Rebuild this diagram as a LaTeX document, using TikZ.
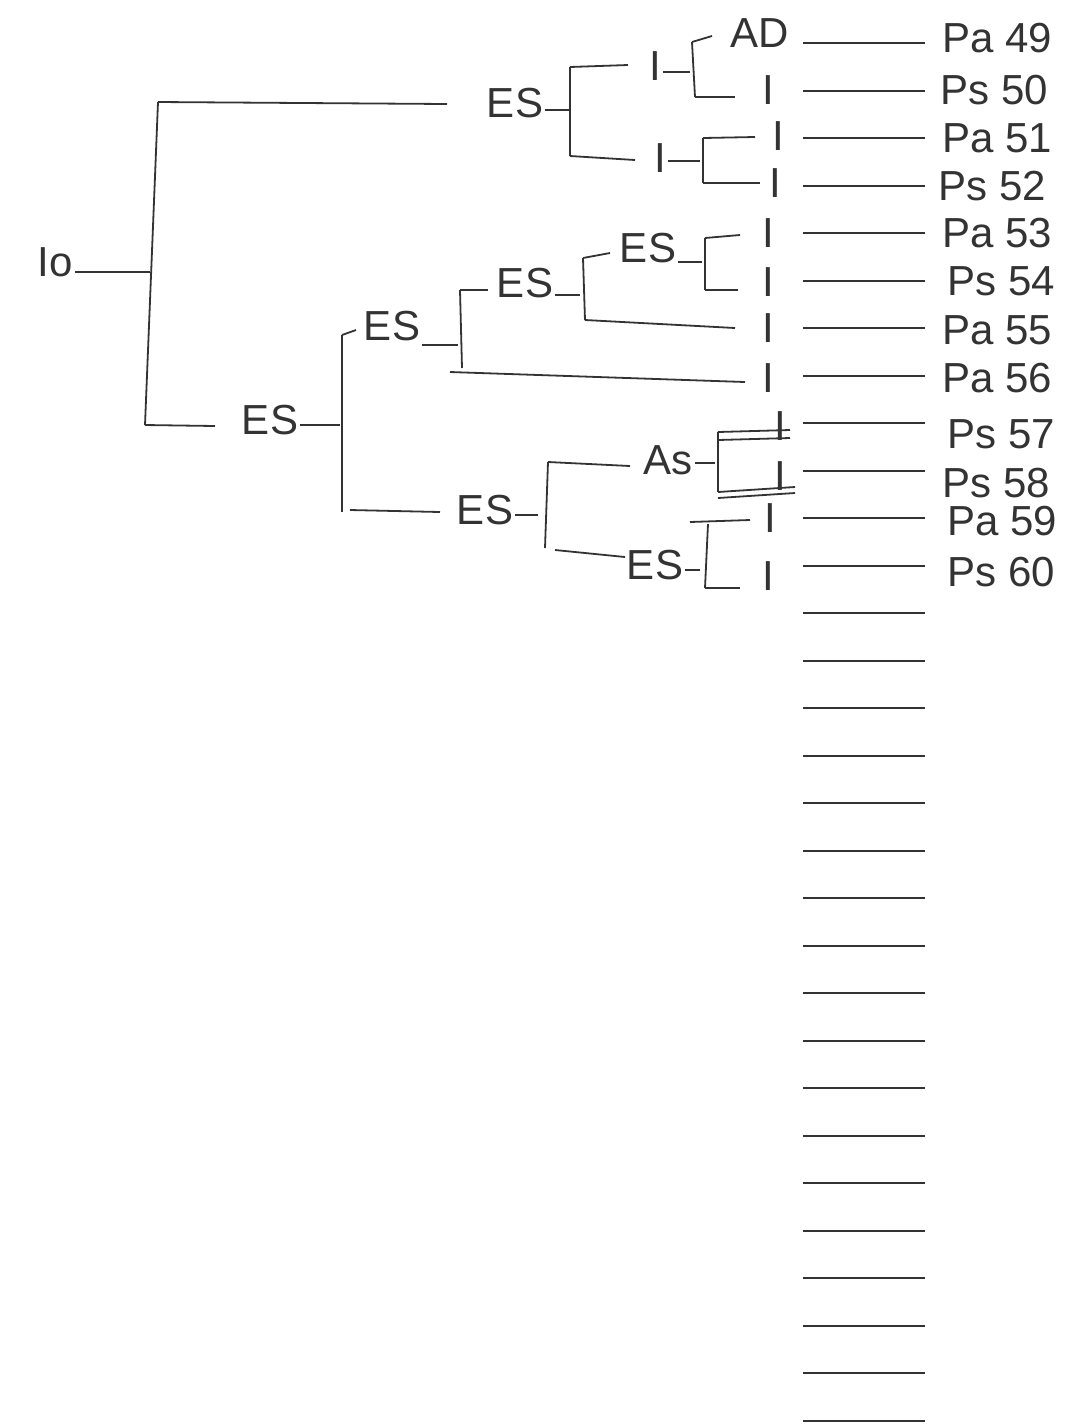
\documentclass[tikz,border=0pt]{standalone}
\usepackage{fontspec}
\setmainfont{Liberation Sans}
\definecolor{ink}{HTML}{333333}
\begin{document}
\begin{tikzpicture}[x=0.5pt,y=-0.5pt,
  lbl/.style={font=\fontsize{21}{21}\selectfont, text=ink, inner sep=1pt},
  edge/.style={draw=ink, line width=0.9pt},
  leafline/.style={draw=ink, line width=1pt}]
\useasboundingbox (0,0) rectangle (1079,1426);
\fill[white] (0,0) rectangle (1079,1426);

% ---------- labels ----------
\node[lbl] (io)  at (55,262) {Io};
\node[lbl] (es1) at (515,103) {ES};
\node[lbl] (i1)  at (655,66) {I};
\node[lbl] (ad)  at (760,33) {AD};
\node[lbl] (i2)  at (768,90) {I};
\node[lbl] (i3)  at (660,158) {I};
\node[lbl] (i4)  at (778,136) {I};
\node[lbl] (i5)  at (775,183) {I};

\node[lbl] (es2) at (270,420) {ES};
\node[lbl] (es3) at (392,326) {ES};
\node[lbl] (es4) at (525,283) {ES};
\node[lbl] (es5) at (648,248) {ES};
\node[lbl] (i6)  at (768,233) {I};
\node[lbl] (i7)  at (768,282) {I};
\node[lbl] (i8)  at (768,328) {I};
\node[lbl] (i9)  at (768,378) {I};

\node[lbl] (es6) at (485,510) {ES};
\node[lbl] (as)  at (668,460) {As};
\node[lbl] (i10) at (780,426) {I};
\node[lbl] (i11) at (780,476) {I};
\node[lbl] (es7) at (655,565) {ES};
\node[lbl] (i12) at (770,518) {I};
\node[lbl] (i13) at (768,576) {I};

% ---------- bracket corners ----------
\coordinate (r0)  at (150,272);
\coordinate (r0t) at (158,102);
\coordinate (r0b) at (145,425);
\coordinate (e1a) at (447,104);
\coordinate (e2a) at (215,426);

\coordinate (s1)  at (570,110);
\coordinate (s1t) at (570,67);
\coordinate (s1b) at (570,156);
\coordinate (s1ta) at (628,65);
\coordinate (s1ba) at (635,160);
\coordinate (s2)  at (690,72);
\coordinate (s2t) at (692,42);
\coordinate (s2b) at (695,97);
\coordinate (s2ta) at (712,36);
\coordinate (s2ba) at (735,97);
\coordinate (s3)  at (700,161);
\coordinate (s3t) at (703,138);
\coordinate (s3b) at (703,183);
\coordinate (s3ta) at (755,137);
\coordinate (s3ba) at (760,183);

\coordinate (m1)  at (340,425);
\coordinate (m1t) at (342,335);
\coordinate (m1b) at (342,512);
\coordinate (m1ta) at (356,330);
\coordinate (m2)  at (458,345);
\coordinate (m2t) at (460,290);
\coordinate (m2b) at (462,368);
\coordinate (m2ta) at (488,290);
\coordinate (m2bs) at (450,372);
\coordinate (m2ba) at (745,382);
\coordinate (m3)  at (580,295);
\coordinate (m3t) at (583,258);
\coordinate (m3b) at (585,320);
\coordinate (m3ta) at (610,253);
\coordinate (m3ba) at (735,328);
\coordinate (m4)  at (702,262);
\coordinate (m4t) at (705,238);
\coordinate (m4b) at (705,290);
\coordinate (m4ta) at (740,235);
\coordinate (m4ba) at (738,290);

\coordinate (b1s) at (350,510);
\coordinate (b1a) at (440,512);
\coordinate (b2)  at (538,515);
\coordinate (b2t) at (548,462);
\coordinate (b2b) at (545,548);
\coordinate (b2ta) at (630,466);
\coordinate (b2bs) at (555,550);
\coordinate (b2ba) at (625,557);
\coordinate (b3)  at (715,463);
\coordinate (b3t) at (718,432);
\coordinate (b3b) at (718,492);
\coordinate (b3ta) at (790,430);
\coordinate (b3ba) at (795,487);
\coordinate (b4)  at (700,570);
\coordinate (b4t) at (708,524);
\coordinate (b4b) at (705,588);
\coordinate (b4ts) at (690,522);
\coordinate (b4ta) at (750,520);
\coordinate (b4ba) at (740,588);

% ---------- connectors ----------
\draw[edge] (io.east |- r0) -- (r0);
\draw[edge] (r0t) -- (r0b);
\draw[edge] (r0t) -- (e1a);
\draw[edge] (r0b) -- (e2a);

% upper subtree
\draw[edge] (es1.east |- s1) -- (s1);
\draw[edge] (s1t) -- (s1b);
\draw[edge] (s1t) -- (s1ta);
\draw[edge] (s1b) -- (s1ba);
\draw[edge] (i1.east |- s2) -- (s2);
\draw[edge] (s2t) -- (s2b);
\draw[edge] (s2t) -- (s2ta);
\draw[edge] (s2b) -- (s2ba);
\draw[edge] (i3.east |- s3) -- (s3);
\draw[edge] (s3t) -- (s3b);
\draw[edge] (s3t) -- (s3ta);
\draw[edge] (s3b) -- (s3ba);

% middle subtree
\draw[edge] (es2.east |- m1) -- (m1);
\draw[edge] (m1t) -- (m1b);
\draw[edge] (m1t) -- (m1ta);
\draw[edge] (es3.east |- m2) -- (m2);
\draw[edge] (m2t) -- (m2b);
\draw[edge] (m2t) -- (m2ta);
\draw[edge] (m2bs) -- (m2ba);
\draw[edge] (es4.east |- m3) -- (m3);
\draw[edge] (m3t) -- (m3b);
\draw[edge] (m3t) -- (m3ta);
\draw[edge] (m3b) -- (m3ba);
\draw[edge] (es5.east |- m4) -- (m4);
\draw[edge] (m4t) -- (m4b);
\draw[edge] (m4t) -- (m4ta);
\draw[edge] (m4b) -- (m4ba);

% lower subtree
\draw[edge] (b1s) -- (b1a);
\draw[edge] (es6.east |- b2) -- (b2);
\draw[edge] (b2t) -- (b2b);
\draw[edge] (b2t) -- (b2ta);
\draw[edge] (b2bs) -- (b2ba);
\draw[edge] (as.east |- b3) -- (b3);
\draw[edge] (b3t) -- (b3b);
\draw[edge] (b3t) -- (b3ta);
\draw[edge] (b3b) -- (b3ba);
\draw[edge] ([yshift=-4pt]b3t) -- ([yshift=-4pt]b3ta);
\draw[edge] ([yshift=-3pt]b3b) -- ([yshift=-3pt]b3ba);
\draw[edge] (es7.east |- b4) -- (b4);
\draw[edge] (b4t) -- (b4b);
\draw[edge] (b4ts) -- (b4ta);
\draw[edge] (b4b) -- (b4ba);

% ---------- leaf lines ----------
\foreach \k in {0,...,29}{
  \coordinate (la\k) at (803,{43+47.5*\k});
  \coordinate (lb\k) at (925,{43+47.5*\k});
  \draw[leafline] (la\k) -- (lb\k);
}

% ---------- leaf labels ----------
\node[lbl,anchor=west] (p49) at (940,38)  {Pa 49};
\node[lbl,anchor=west] (p50) at (938,90)  {Ps 50};
\node[lbl,anchor=west] (p51) at (940,138) {Pa 51};
\node[lbl,anchor=west] (p52) at (936,186) {Ps 52};
\node[lbl,anchor=west] (p53) at (940,233) {Pa 53};
\node[lbl,anchor=west] (p54) at (945,281) {Ps 54};
\node[lbl,anchor=west] (p55) at (940,330) {Pa 55};
\node[lbl,anchor=west] (p56) at (940,378) {Pa 56};
\node[lbl,anchor=west] (p57) at (945,434) {Ps 57};
\node[lbl,anchor=west] (p58) at (940,483) {Ps 58};
\node[lbl,anchor=west] (p59) at (945,521) {Pa 59};
\node[lbl,anchor=west] (p60) at (945,572) {Ps 60};
\end{tikzpicture}
\end{document}
